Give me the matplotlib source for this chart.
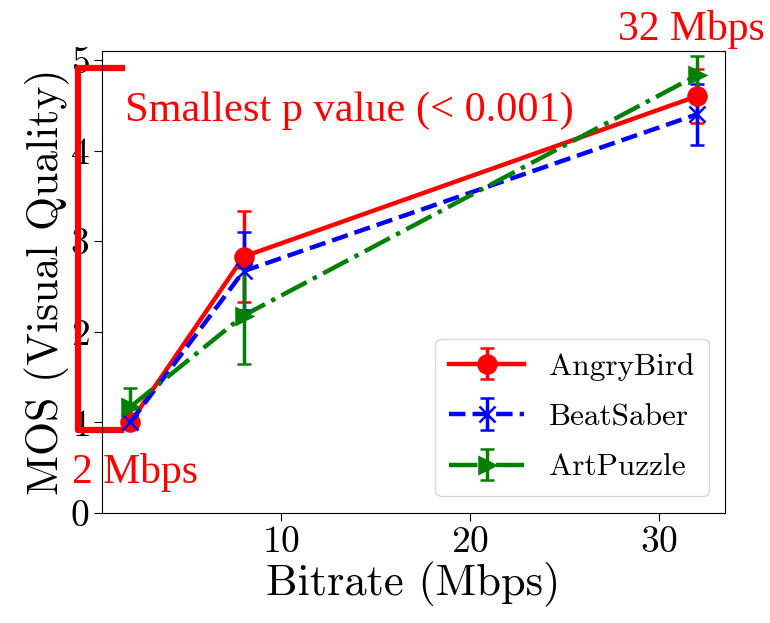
import matplotlib.pyplot as plt
import matplotlib.transforms as mtransforms

plt.rcParams['font.family'] = 'cmr10'
plt.rcParams['mathtext.fontset'] = 'cm'
plt.rcParams['axes.formatter.use_mathtext'] = True

bitrate = [2, 8, 32]

angry_mos = [1.0, 2.83, 4.6]
angry_err = [0.0, 0.5, 0.3]
beat_mos = [1.0, 2.67, 4.4]
beat_err = [0.0, 0.43, 0.34]
art_mos = [1.17, 2.18, 4.83]
art_err = [0.21, 0.53, 0.22]

series = [
    ("AngryBird", angry_mos, angry_err, 'red', '-', 'o', 13),
    ("BeatSaber", beat_mos, beat_err, 'blue', '--', 'x', 12),
    ("ArtPuzzle", art_mos, art_err, 'green', '-.', '>', 12),
]

fig = plt.figure(figsize=(7.7, 6.23), dpi=100)
ax = fig.add_axes([102/770, 1 - 513/623, 623/770, 462/623])

for name, mos, err, color, ls, mk, ms in series:
    ax.errorbar(bitrate, mos, yerr=err, label=name, color=color, linestyle=ls,
                marker=mk, markersize=ms, linewidth=3.2, elinewidth=2.5,
                capsize=5, capthick=2.5, markeredgewidth=1.8)

ax.set_ylim(0, 5.1)
ax.set_yticks([0, 1, 2, 3, 4, 5])
ax.set_xticks([10, 20, 30])
ax.tick_params(labelsize=27, length=6, pad=3)
ax.set_xlabel("Bitrate (Mbps)", fontsize=32, labelpad=2)
ax.set_ylabel("MOS (Visual Quality)", fontsize=31.5, labelpad=0)

ax.legend(loc='lower right', fontsize=22.5, handlelength=2.4,
          borderpad=0.45, labelspacing=0.72, handletextpad=0.8,
          bbox_to_anchor=(0.999, 0.004))

# red bracket marking the 2 -> 32 Mbps range
trans = mtransforms.blended_transform_factory(ax.transAxes, ax.transData)
ax.plot([0.032, -0.038, -0.038, 0.030], [4.91, 4.91, 0.92, 0.92],
        color='red', linewidth=4.5, transform=trans, clip_on=False,
        solid_joinstyle='round')

tfont = dict(family='Liberation Serif', color='red')
ax.text(0.037, 4.33, "Smallest p value (< 0.001)", fontsize=30.5,
        transform=trans, **tfont)
ax.text(-0.048, 0.33, "2 Mbps", fontsize=30, transform=trans, **tfont)
fig.text(618/770, 1 - 40/623, "32 Mbps", fontsize=30, **tfont)

fig.savefig("out.png", dpi=100)
